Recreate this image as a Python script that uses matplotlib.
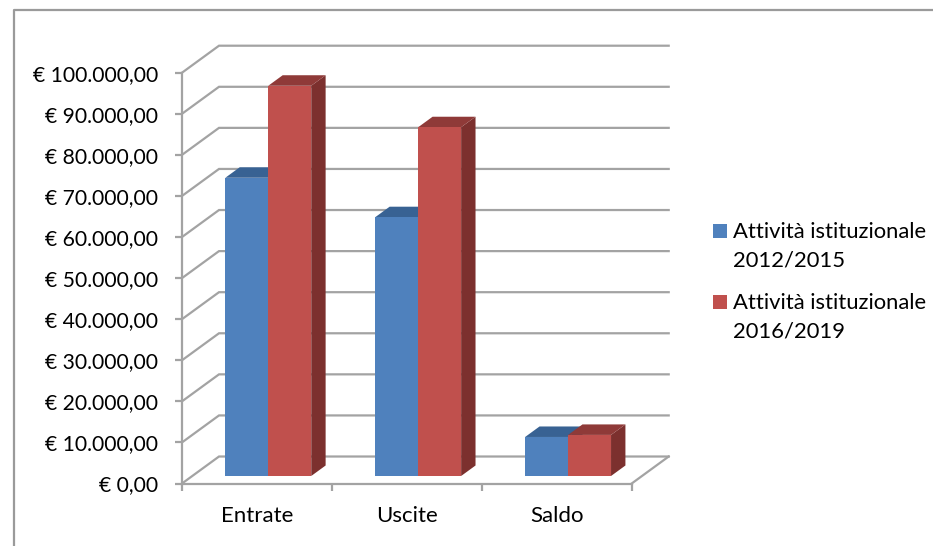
import matplotlib
matplotlib.use("Agg")
import matplotlib.pyplot as plt
from matplotlib.patches import Polygon, Patch, Rectangle
from matplotlib.legend_handler import HandlerPatch
from matplotlib.lines import Line2D

categories = ["Entrate", "Uscite", "Saldo"]
series_names = ["Attività istituzionale\n2012/2015", "Attività istituzionale\n2016/2019"]
values_2012 = [72600, 63000, 9500]
values_2016 = [95000, 84900, 10000]
y_ticks = [0, 10000, 20000, 30000, 40000, 50000, 60000, 70000, 80000, 90000, 100000]
y_labels = ["€ 0,00", "€ 10.000,00", "€ 20.000,00", "€ 30.000,00", "€ 40.000,00", "€ 50.000,00",
            "€ 60.000,00", "€ 70.000,00", "€ 80.000,00", "€ 90.000,00", "€ 100.000,00"]

W, H = 933, 546
GRID = "#a3a3a3"
plt.rcParams["font.family"] = ["Lato", "DejaVu Sans"]
fig = plt.figure(figsize=(W / 100, H / 100), dpi=100)
ax = fig.add_axes([182 / W, 1 - 483.5 / H, 449.7 / W, 410.8 / H])
ax.set_xlim(0, 3)
ax.set_ylim(0, 100000)

DX, DY = 0.2468, 6570          # full depth of the floor in data units


def proj(x, y, d):
    return (x + DX * d, y + DY * d)


# walls
LW = 1.6
for t in y_ticks:
    xs, ys = zip(proj(0, t, 0), proj(0, t, 1), proj(3, t, 1))
    ax.plot(xs, ys, color=GRID, lw=LW, clip_on=False, zorder=1, solid_joinstyle="miter")
xs, ys = zip(proj(3, 0, 0), proj(3, 0, 1))
ax.plot(xs, ys, color=GRID, lw=LW, clip_on=False, zorder=1)

# bars
D0, D1 = 0.278, 0.667
BAR_START, BAR_W = 0.2205, 0.2865
styles = [("#4F81BD", "#386293", "#2F5582"), ("#C0504D", "#8F3A38", "#7C302E")]
for s, (vals, (front, top, side)) in enumerate(zip([values_2012, values_2016], styles)):
    for i, v in enumerate(vals):
        x0 = i + BAR_START + s * BAR_W
        x1 = x0 + BAR_W
        faces = [
            ([proj(x1, 0, D0), proj(x1, 0, D1), proj(x1, v, D1), proj(x1, v, D0)], side),
            ([proj(x0, v, D0), proj(x1, v, D0), proj(x1, v, D1), proj(x0, v, D1)], top),
            ([proj(x0, 0, D0), proj(x1, 0, D0), proj(x1, v, D0), proj(x0, v, D0)], front),
        ]
        for pts, c in faces:
            ax.add_patch(Polygon(pts, closed=True, facecolor=c, edgecolor="none",
                                 clip_on=False, zorder=3 + s))

# axes
for name in ("top", "right"):
    ax.spines[name].set_visible(False)
for name in ("left", "bottom"):
    ax.spines[name].set_color(GRID)
    ax.spines[name].set_linewidth(LW)
    ax.spines[name].set_zorder(2)
ax.patch.set_alpha(0)
ax.set_yticks(y_ticks, y_labels)
ax.set_xticks([0, 1, 2, 3], [""] * 4)
ax.set_xticks([0.5, 1.5, 2.5], categories, minor=True)
ax.tick_params(axis="y", length=5, width=LW, color=GRID, labelsize=15.2, pad=12, labelcolor="black")
ax.tick_params(axis="x", which="major", length=5, width=LW, color=GRID)
ax.tick_params(axis="x", which="minor", length=0, labelsize=16, pad=16.5, labelcolor="black")


class FirstLineHandler(HandlerPatch):
    """Legend square level with the first line of a two-line label."""

    def create_artists(self, legend, orig_handle, xdescent, ydescent, width, height, fontsize, trans):
        size = 10.1
        p = Rectangle((-xdescent, -ydescent + 11.3), size, size,
                      facecolor=orig_handle.get_facecolor(), edgecolor="none", transform=trans)
        return [p]


# legend
handles = [Patch(facecolor=styles[0][0], label=series_names[0]),
           Patch(facecolor=styles[1][0], label=series_names[1])]
leg = ax.legend(handles=handles, loc="upper left", bbox_to_anchor=(713 / W, 1 - 222 / H),
                bbox_transform=fig.transFigure, frameon=False, fontsize=15.8,
                handlelength=0.64, handleheight=0.64, handletextpad=0.28,
                labelspacing=1.02, borderaxespad=0, borderpad=0, alignment="left",
                handler_map={Patch: FirstLineHandler()})
plt.setp(leg.get_texts(), linespacing=1.55)

# chart frame
fig.add_artist(Line2D([13.5 / W, 13.5 / W, 1], [0, 1 - 10 / H, 1 - 10 / H],
                      transform=fig.transFigure, color="#9a9a9a", lw=1.6))

fig.savefig("out.png", dpi=100)
